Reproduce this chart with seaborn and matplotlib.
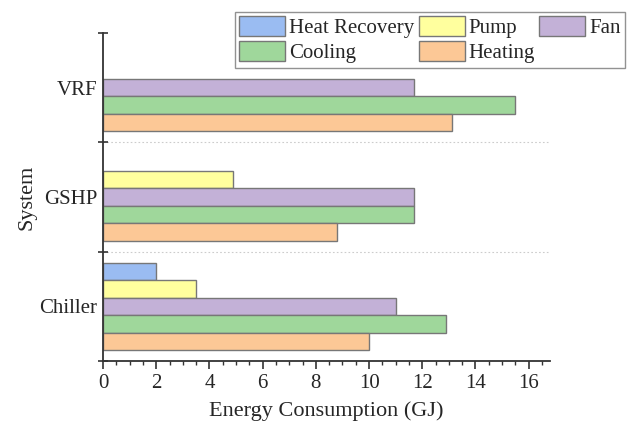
import numpy as np
import pandas as pd
import matplotlib
matplotlib.use("Agg")
import matplotlib.pyplot as plt
from matplotlib.patches import Patch
from matplotlib.ticker import MultipleLocator
import seaborn as sns

systems = ["VRF", "GSHP", "Chiller"]
types = ["Heat Recovery", "Pump", "Fan", "Cooling", "Heating"]
heat_recovery = [np.nan, np.nan, 2.0]
pump = [np.nan, 4.9, 3.5]
fan = [11.7, 11.7, 11.0]
cooling = [15.5, 11.7, 12.9]
heating = [13.1, 8.8, 10.0]
colors = ["#9ABCF2", "#FFFF9E", "#C3B1D7", "#9FD79B", "#FCC896"]

series = [heat_recovery, pump, fan, cooling, heating]
rows = []
for t, vals in zip(types, series):
    for s, v in zip(systems, vals):
        if not np.isnan(v):
            rows.append({"System": s, "Type": t, "Energy": v})
df = pd.DataFrame(rows)

sns.set_style("ticks")
plt.rcParams["font.family"] = ["Liberation Serif", "DejaVu Serif"]
plt.rcParams["font.size"] = 15

fig = plt.figure(figsize=(6.33, 4.29), dpi=100)
ax = fig.add_axes([103 / 633, 1 - 361 / 429, (550 - 103) / 633, (361 - 33) / 429])

sns.barplot(data=df, y="System", x="Energy", hue="Type", hue_order=types,
            order=systems, orient="h", palette=colors, saturation=1,
            edgecolor="#777777", linewidth=1.0, width=0.8, ax=ax, legend=False)

ax.set_xlim(0, 16.8)
ax.set_ylim(2.5, -0.5)
ax.xaxis.set_major_locator(MultipleLocator(2))
ax.xaxis.set_minor_locator(MultipleLocator(0.5))
ax.tick_params(axis="x", which="major", direction="out", length=6, width=1.2,
               color="#333333", labelsize=15, pad=3)
ax.tick_params(axis="x", which="minor", direction="out", length=3, width=1.0,
               color="#333333")

ax.set_yticks([-0.5, 0.5, 1.5, 2.5])
ax.set_yticklabels([])
ax.set_yticks([0, 1, 2], minor=True)
ax.set_yticklabels(systems, minor=True)
ax.tick_params(axis="y", which="major", direction="inout", length=7, width=1.2,
               color="#333333")
ax.tick_params(axis="y", which="minor", length=0, labelsize=15, pad=4)

for yb in [0.5, 1.5]:
    ax.axhline(yb, color="#cccccc", linestyle=(0, (1.5, 2)), linewidth=0.8, zorder=0)

for side in ["top", "right"]:
    ax.spines[side].set_visible(False)
for side in ["left", "bottom"]:
    ax.spines[side].set_color("#333333")
    ax.spines[side].set_linewidth(1.3)

ax.set_xlabel("Energy Consumption (GJ)", fontsize=16, labelpad=6)
ax.set_ylabel("System", fontsize=16, labelpad=2)

handles = [Patch(facecolor=c, edgecolor="#777777", linewidth=1.0, label=t)
           for t, c in zip(types, colors)]
order = [0, 3, 1, 4, 2]
leg = fig.legend(handles=[handles[i] for i in order],
                 labels=[types[i] for i in order],
                 ncol=3, loc="upper right",
                 bbox_to_anchor=(625 / 633, 1 - 12 / 429),
                 fontsize=15, frameon=True, fancybox=False,
                 handlelength=2.2, handleheight=1.1, handletextpad=0.2,
                 columnspacing=0.2, labelspacing=0.15, borderpad=0.2,
                 borderaxespad=0)
leg.get_frame().set_edgecolor("#777777")
leg.get_frame().set_linewidth(1.0)

fig.savefig("out.png", dpi=100)
